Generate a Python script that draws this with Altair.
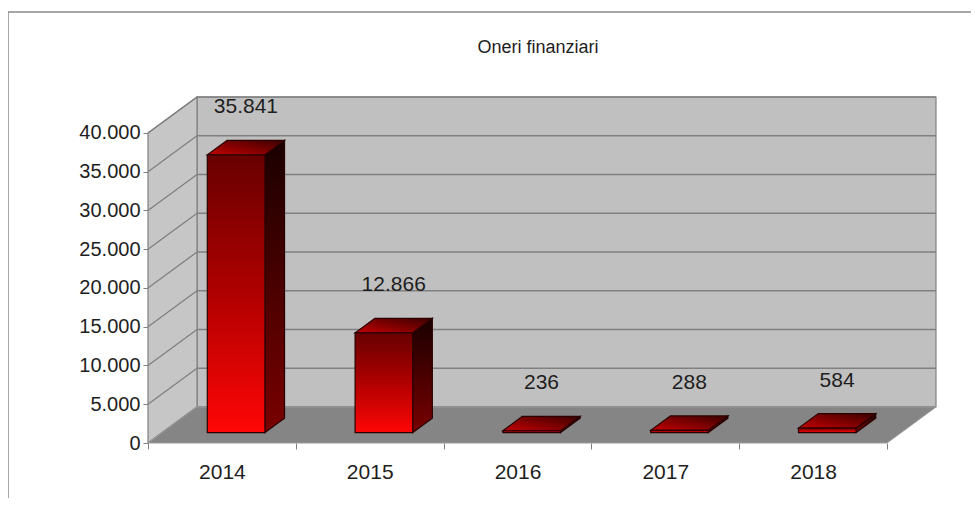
import altair as alt
import pandas as pd

# ---------------- data ----------------
YEARS = ["2014", "2015", "2016", "2017", "2018"]
VALUES = [35841, 12866, 236, 288, 584]
Y_TICKS = [0, 5000, 10000, 15000, 20000, 25000, 30000, 35000, 40000]
TITLE = "Oneri  finanziari"

# ---------------- geometry / style ----------------
W, H = 788, 346
N = len(YEARS)
Y_TOP = Y_TICKS[-1]
DX = 0.3315      # 3D depth, in category units
DY = 4645        # 3D depth, in value units
BAR_W = 0.39     # bar width, category units
F0 = 0.29        # bar front position within depth
FD = 0.40        # bar depth fraction
XMAX = N + DX
YMAX = Y_TOP + DY
FONT = "Liberation Sans"
TXT = "#1e1e1e"
GRID = "#808080"

xs = alt.Scale(domain=[0, XMAX], nice=False, zero=False)
ys = alt.Scale(domain=[0, YMAX], nice=False, zero=False)

year_arr = "[" + ",".join(f"'{y}'" for y in YEARS) + "]"
AX_X = alt.Axis(
    values=list(range(N + 1)), title=None, grid=False, domain=False,
    ticks=True, tickSize=6, tickColor=GRID,
    labelExpr=f"datum.value < {N} ? {year_arr}[datum.value] : ''",
    labelOffset=W / XMAX / 2, labelFlush=False, labelPadding=12,
    labelFont=FONT, labelFontSize=21, labelColor=TXT,
)
AX_Y = alt.Axis(
    values=Y_TICKS, title=None, grid=False, domain=False,
    ticks=True, tickSize=5, tickColor=GRID, labelPadding=3,
    labelExpr="replace(format(datum.value, ','), ',', '.')",
    labelFont=FONT, labelFontSize=20, labelColor=TXT,
)


def X(f):
    return alt.X(f, scale=xs, axis=AX_X, title=None)


def Y(f):
    return alt.Y(f, scale=ys, axis=AX_Y, title=None)


def fmt(v):
    return f"{v:,}".replace(",", ".")


# ---------------- tables ----------------
back_df = pd.DataFrame([{"x": DX, "x2": N + DX, "y": DY, "y2": Y_TOP + DY}])
left_df = pd.DataFrame([
    {"x": 0, "ylo": 0, "yhi": Y_TOP},
    {"x": DX, "ylo": DY, "yhi": Y_TOP + DY},
])
floor_df = pd.DataFrame([
    {"y": 0, "xlo": 0, "xhi": N},
    {"y": DY, "xlo": DX, "xhi": N + DX},
])
grid_df = pd.DataFrame([
    {"t": t, "x0": 0, "x1": DX, "x2": N + DX, "y0": t, "y1": t + DY}
    for t in Y_TICKS
])

front_rows, side_rows, top_rows, label_rows = [], [], [], []
for i, (yr, v) in enumerate(zip(YEARS, VALUES)):
    cx = i + 0.5 + F0 * DX
    xl, xr = cx - BAR_W / 2, cx + BAR_W / 2
    yb, yt = F0 * DY, v + F0 * DY
    front_rows.append({"year": yr, "xl": xl, "xr": xr, "yb": yb, "yt": yt})
    side_rows += [
        {"year": yr, "x": xr, "ylo": yb, "yhi": yt},
        {"year": yr, "x": xr + FD * DX, "ylo": yb + FD * DY, "yhi": yt + FD * DY},
    ]
    top_rows += [
        {"year": yr, "y": yt, "xlo": xl, "xhi": xr},
        {"year": yr, "y": yt + FD * DY, "xlo": xl + FD * DX, "xhi": xr + FD * DX},
    ]
    label_rows.append({"year": yr, "x": cx + FD * DX / 2, "y": yt + FD * DY, "text": fmt(v)})

front_df = pd.DataFrame(front_rows)
side_df = pd.DataFrame(side_rows)
top_df = pd.DataFrame(top_rows)
label_df = pd.DataFrame(label_rows)
frame_df = pd.DataFrame([{"title": TITLE}])

# ---------------- layers ----------------
frame = alt.Chart(frame_df).mark_rect(
    fillOpacity=0, stroke="#8a8a8a", strokeWidth=1.5
).encode(
    x=alt.value(-140), x2=alt.value(W + 80),
    y=alt.value(-85), y2=alt.value(H + 90),
)

title = alt.Chart(frame_df).mark_text(
    font=FONT, fontSize=18, color=TXT, align="center", baseline="middle"
).encode(
    x=alt.value(390), y=alt.value(-49), text="title:N",
)

back = alt.Chart(back_df).mark_rect(
    fill="#c0c0c0", stroke=GRID, strokeWidth=1.2
).encode(x=X("x:Q"), x2="x2:Q", y=Y("y:Q"), y2="y2:Q")

left = alt.Chart(left_df).mark_area(
    orient="vertical", fill="#c6c6c6", stroke=GRID, strokeWidth=1.2
).encode(x=X("x:Q"), y=Y("yhi:Q"), y2="ylo:Q")

hgrid = alt.Chart(grid_df).mark_rule(color=GRID, strokeWidth=1.3).encode(
    x=X("x1:Q"), x2="x2:Q", y=Y("y1:Q"), y2="y1:Q",
)
dgrid = alt.Chart(grid_df).mark_rule(color=GRID, strokeWidth=1.3).encode(
    x=X("x0:Q"), x2="x1:Q", y=Y("y0:Q"), y2="y1:Q",
)

floor = alt.Chart(floor_df).mark_area(
    orient="horizontal", fill="#858585", stroke="#9a9a9a", strokeWidth=1
).encode(y=Y("y:Q"), x=X("xlo:Q"), x2="xhi:Q")

BAR_STROKE = "#2a0000"
side = alt.Chart(side_df).mark_area(
    orient="vertical", stroke=BAR_STROKE, strokeWidth=1.2,
    fill=alt.LinearGradient(
        gradient="linear",
        stops=[alt.GradientStop(color="#1a0000", offset=0),
               alt.GradientStop(color="#7a0000", offset=1)],
        x1=0, x2=0, y1=0, y2=1,
    ),
).encode(x=X("x:Q"), y=Y("yhi:Q"), y2="ylo:Q", detail="year:N")

top = alt.Chart(top_df).mark_area(
    orient="horizontal", stroke=BAR_STROKE, strokeWidth=1.2,
    fill=alt.LinearGradient(
        gradient="linear",
        stops=[alt.GradientStop(color="#c40000", offset=0),
               alt.GradientStop(color="#3a0000", offset=1)],
        x1=0, x2=1, y1=1, y2=0,
    ),
).encode(y=Y("y:Q"), x=X("xlo:Q"), x2="xhi:Q", detail="year:N")

front = alt.Chart(front_df).mark_rect(
    stroke=BAR_STROKE, strokeWidth=1.2,
    fill=alt.LinearGradient(
        gradient="linear",
        stops=[alt.GradientStop(color="#680000", offset=0),
               alt.GradientStop(color="#b00000", offset=0.5),
               alt.GradientStop(color="#ff0606", offset=1)],
        x1=0, x2=0, y1=0, y2=1,
    ),
).encode(x=X("xl:Q"), x2="xr:Q", y=Y("yb:Q"), y2="yt:Q")

labels = alt.Chart(label_df).mark_text(
    font=FONT, fontSize=21, color=TXT, baseline="middle", align="center", dy=-33
).encode(x=X("x:Q"), y=Y("y:Q"), text="text:N")

chart = alt.layer(
    frame, title, back, left, hgrid, dgrid, floor, side, top, front, labels
).properties(
    width=W, height=H,
    autosize=alt.AutoSizeParams(type="none"),
    padding={"left": 140, "top": 89, "right": 35, "bottom": 55},
).configure_view(stroke=None)

chart.save("out.html", embed_options={"renderer": "svg", "actions": False})
